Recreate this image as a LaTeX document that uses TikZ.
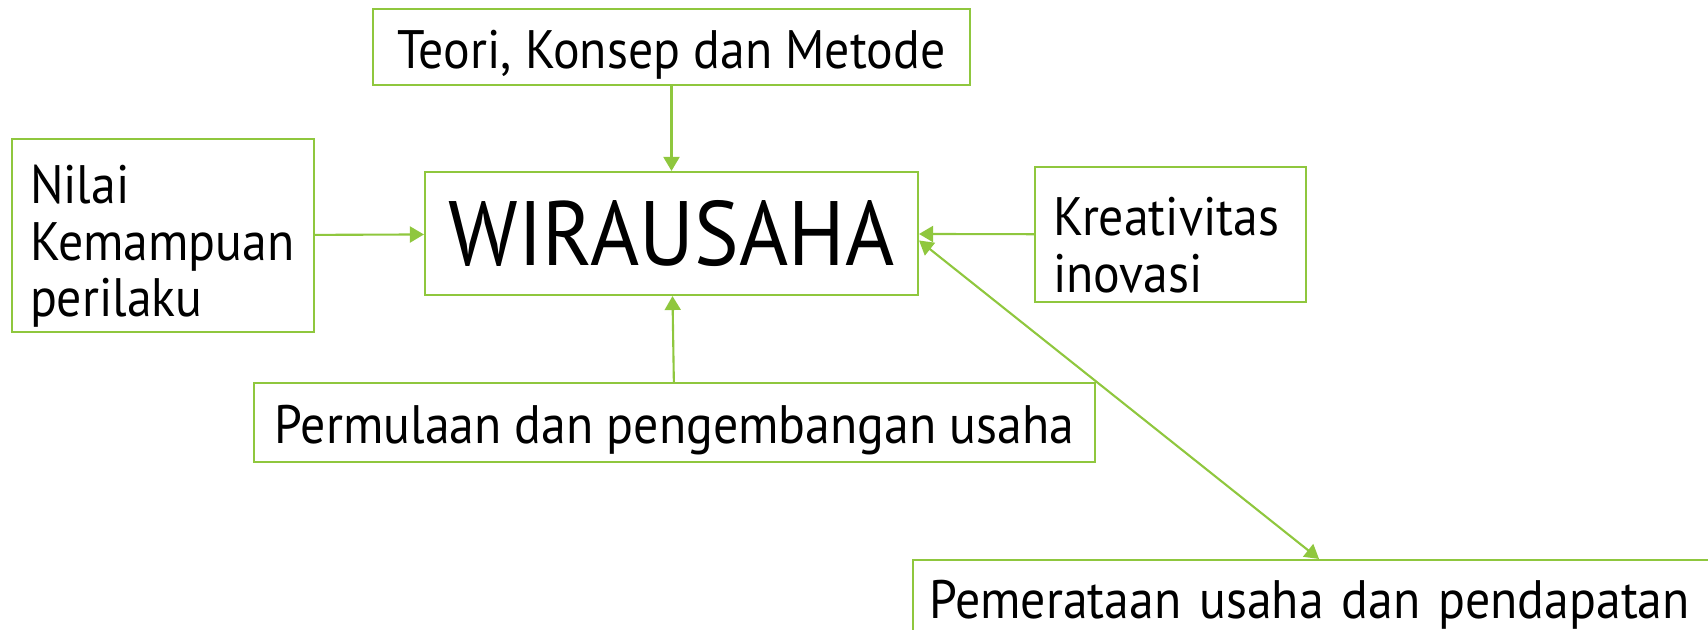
\documentclass[tikz,border=0pt]{standalone}
\usepackage{fontspec}
\setmainfont[FakeStretch=0.92]{PT Sans}
\usetikzlibrary{arrows.meta,positioning}
\definecolor{LinkGreen}{HTML}{8FC73E}
\definecolor{InkDark}{HTML}{000000}
\tikzset{
  box/.style={rectangle, draw=LinkGreen, line width=0.6pt, fill=white,
              inner sep=0pt, font=\fontsize{15.4}{16.1}\selectfont, text=InkDark},
  link/.style={line width=0.6pt, draw=LinkGreen},
}
\newcommand{\droptext}{\rule{0pt}{0.6cm}}
\begin{document}
\begin{tikzpicture}[
  sidebox/.style={box, align=left, inner xsep=1.8mm},
  oneline/.style={box, text height=0.5cm, text depth=0.07cm},
]
\useasboundingbox (0,0) rectangle (17.08,6.30);
\clip (0,0) rectangle (17.08,6.30);
% ---------------------------------------------------------------- boxes
\node[box, minimum width=4.93cm, minimum height=1.23cm,
      font=\fontsize{26}{30}\selectfont] (wira) at (6.715,3.965) {WIRAUSAHA};
\node[oneline, minimum width=5.97cm, minimum height=0.76cm] (teori) at (6.715,5.83) {Teori, Konsep dan Metode};
\node[sidebox, minimum width=3.02cm, minimum height=1.93cm, text width=2.66cm] (nilai) at (1.63,3.945) {\droptext Nilai\\Kemampuan\\perilaku};
\node[sidebox, minimum width=2.71cm, minimum height=1.35cm, text width=2.35cm] (kreatif) at (11.705,3.955) {\droptext Kreativitas\\inovasi};
\node[oneline, minimum width=8.41cm, minimum height=0.79cm] (mula) at (6.745,2.075) {Permulaan dan pengembangan usaha};
\node[oneline, text height=0.44cm, minimum width=8.12cm, minimum height=0.80cm, anchor=north west,
      text width=7.8cm, align=left, inner xsep=1.6mm] (merata) at (9.12,0.71) {Pemerataan usaha dan pendapatan};
% ---------------------------------------------------------------- links
\draw[link, -{Triangle[length=1.4mm, width=1.6mm]}] (teori) -- (wira);
\draw[link, -{Triangle[length=1.4mm, width=1.6mm]}] (nilai) -- (wira);
\draw[link, -{Triangle[length=1.4mm, width=1.6mm]}] (kreatif) -- (wira);
\draw[link, -{Triangle[length=1.4mm, width=1.6mm]}] (mula) -- (wira);
\draw[link, {Triangle[length=1.4mm, width=1.6mm]}-{Triangle[length=1.4mm, width=1.6mm]}]
  ([yshift=-0.07cm]wira.east) -- (merata.north);
\end{tikzpicture}
\end{document}
